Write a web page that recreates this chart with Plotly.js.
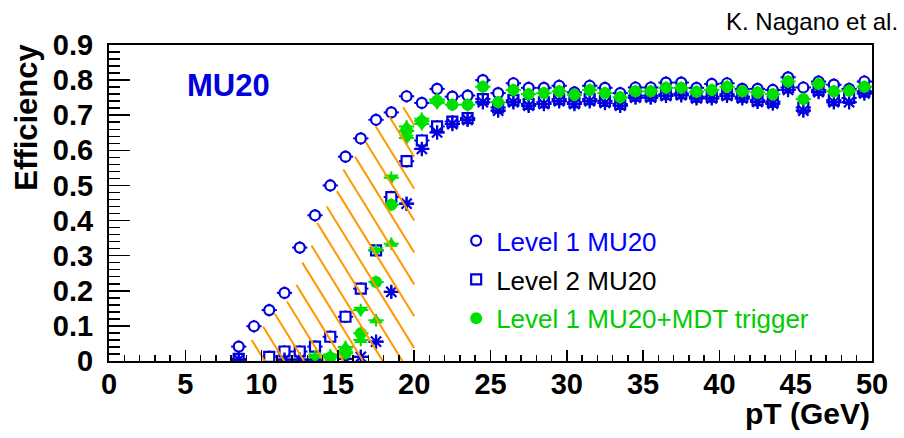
<!DOCTYPE html>
<html>
<head>
<meta charset="utf-8">
<script src="https://cdn.plot.ly/plotly-3.0.1.min.js"></script>
<style>
  html, body { margin: 0; padding: 0; background: #fff; }
  #chart { width: 904px; height: 438px; }
</style>
</head>
<body>
<div id="chart"></div>
<script>
// Bin centres (GeV)
const ptBins = [8.5, 9.5, 10.5, 11.5, 12.5, 13.5, 14.5, 15.5, 16.5, 17.5, 18.5, 19.5,
  20.5, 21.5, 22.5, 23.5, 24.5, 25.5, 26.5, 27.5, 28.5, 29.5, 30.5, 31.5, 32.5, 33.5,
  34.5, 35.5, 36.5, 37.5, 38.5, 39.5, 40.5, 41.5, 42.5, 43.5, 44.5, 45.5, 46.5, 47.5,
  48.5, 49.5];

// Level 1 MU20
const effL1 = [0.041, 0.099, 0.145, 0.194, 0.323, 0.415, 0.500, 0.582, 0.634, 0.687, 0.708, 0.754,
  0.735, 0.775, 0.753, 0.756, 0.800, 0.763, 0.791, 0.778, 0.778, 0.784, 0.765, 0.784, 0.778, 0.763,
  0.779, 0.779, 0.793, 0.793, 0.778, 0.789, 0.791, 0.775, 0.775, 0.772, 0.808, 0.779, 0.796, 0.787,
  0.775, 0.796];

// Level 2 MU20
const effL2 = [0.006, null, 0.012, 0.027, 0.027, 0.041, 0.069, 0.126, 0.206, 0.315, 0.467, 0.569,
  0.628, 0.668, 0.682, 0.692, 0.746, 0.722, 0.743, 0.732, 0.737, 0.746, 0.737, 0.746, 0.741, 0.732,
  0.756, 0.756, 0.760, 0.762, 0.753, 0.753, 0.760, 0.753, 0.743, 0.739, 0.779, 0.722, 0.772, 0.743,
  0.749, 0.768];

// Level 2 (asterisks)
const effL2b = [0.004, null, null, 0.004, 0.004, 0.004, null, 0.006, 0.012, 0.055, 0.197, 0.448,
  0.604, 0.651, 0.675, 0.687, 0.737, 0.713, 0.737, 0.727, 0.732, 0.740, 0.732, 0.740, 0.735, 0.727,
  0.750, 0.750, 0.755, 0.757, 0.748, 0.748, 0.755, 0.748, 0.738, 0.733, 0.772, 0.713, 0.766, 0.737,
  0.737, 0.762];

// Level 1 MU20 + MDT trigger
const effMDT = [null, null, null, null, null, null, 0.010, 0.022, 0.079, 0.225, 0.445, 0.655,
  0.683, 0.741, 0.730, 0.730, 0.781, 0.737, 0.772, 0.760, 0.763, 0.768, 0.758, 0.772, 0.763, 0.751,
  0.768, 0.768, 0.778, 0.778, 0.767, 0.772, 0.781, 0.768, 0.765, 0.760, 0.796, 0.746, 0.789, 0.768,
  0.770, 0.781];

// MDT variants (triangles), rising region only
const triBins = [13.5, 14.5, 15.5, 16.5, 17.5, 18.5, 19.5, 20.5, 21.5];
const effTriDown = [0.012, 0.012, 0.026, 0.145, 0.315, 0.522, 0.635, 0.675, 0.735];
const effTriUp = [null, 0.016, 0.040, 0.060, 0.116, 0.334, 0.668, 0.690, 0.745];

// Edge of the hatched band (upper-left side), closed by the 20 GeV line and y = 0
const bandEdgeX = [9.0, 9.35, 10.44, 11.21, 12.19, 12.47, 13.17, 13.61, 14.27, 14.92, 15.35,
  16.01, 16.71, 17.22, 17.98, 18.74, 19.40, 20.0];
const bandEdgeY = [0.0, 0.060, 0.116, 0.150, 0.192, 0.268, 0.311, 0.391, 0.440, 0.481, 0.545,
  0.576, 0.614, 0.658, 0.687, 0.704, 0.727, 0.745];
const bandRightX = 20.0;

// Axis tick labels
const xTicks = [0, 5, 10, 15, 20, 25, 30, 35, 40, 45, 50];
const yTicks = [0, 0.1, 0.2, 0.3, 0.4, 0.5, 0.6, 0.7, 0.8, 0.9];
const yTickText = ['0', '0.1', '0.2', '0.3', '0.4', '0.5', '0.6', '0.7', '0.8', '0.9'];

// ---- geometry / style ----
const W = 904, H = 438;
const M = { l: 109, r: 32, t: 45, b: 77 };
const XR = [0, 50], YR = [0, 0.9];
const pxPerX = (W - M.l - M.r) / (XR[1] - XR[0]);
const pxPerY = (H - M.t - M.b) / (YR[1] - YR[0]);

const BLUE = '#0000dd';
const GREEN = '#00e000';
const ORANGE = '#ff9900';
const FONT = 'Liberation Sans, Arial, Helvetica, sans-serif';

// Hatch: parallel lines, given by their slope on screen and spacing at y = 0
const hatchSlopePx = 1.62;
const hatchStep = 1.29;
const hatchFirst = 10.2;
const k = hatchSlopePx * pxPerX / pxPerY;

function edgeY(x) {
  if (x <= bandEdgeX[0]) return bandEdgeY[0];
  for (let i = 1; i < bandEdgeX.length; i++) {
    if (x <= bandEdgeX[i]) {
      const t = (x - bandEdgeX[i - 1]) / (bandEdgeX[i] - bandEdgeX[i - 1]);
      return bandEdgeY[i - 1] + t * (bandEdgeY[i] - bandEdgeY[i - 1]);
    }
  }
  return bandEdgeY[bandEdgeY.length - 1];
}

const hx = [], hy = [];
for (let x0 = hatchFirst; ; x0 += hatchStep) {
  const xe = Math.min(x0, bandRightX);
  const ye = k * (x0 - xe);
  if (edgeY(xe) < ye) break;           // line passes above the band
  let a = bandEdgeX[0], b = xe;
  for (let it = 0; it < 60; it++) {
    const m = 0.5 * (a + b);
    if (edgeY(m) - k * (x0 - m) < 0) a = m; else b = m;
  }
  const xs = 0.5 * (a + b);
  hx.push(xs, xe, null);
  hy.push(k * (x0 - xs), ye, null);
}

function errX(color) {
  return { type: 'constant', value: 0.5, width: 0, thickness: 2, color: color };
}
function errY(color) {
  return { type: 'constant', value: 0.018, width: 0, thickness: 2, color: color };
}

const traces = [
  {
    x: ptBins, y: effL1, type: 'scatter', mode: 'markers',
    name: '<span style="color:#0000ff">Level 1 MU20</span>', legendgroup: 'a',
    marker: { symbol: 'circle', size: 10, color: '#ffffff', line: { color: BLUE, width: 2.2 } },
    error_x: errX(BLUE), error_y: errY(BLUE)
  },
  {
    x: ptBins, y: effL2, type: 'scatter', mode: 'markers',
    name: '<span style="color:#000000">Level 2 MU20</span>', legendgroup: 'b',
    marker: { symbol: 'square', size: 10, color: '#ffffff', line: { color: BLUE, width: 2.2 } },
    error_x: errX(BLUE), error_y: errY(BLUE)
  },
  {
    x: ptBins, y: effL2b, type: 'scatter', mode: 'markers', showlegend: false,
    marker: { symbol: 'asterisk-open', size: 12, color: BLUE, line: { color: BLUE, width: 2.2 } },
    error_x: errX(BLUE), error_y: errY(BLUE)
  },
  {
    x: triBins, y: effTriDown, type: 'scatter', mode: 'markers', showlegend: false,
    marker: { symbol: 'triangle-down', size: 13, color: GREEN },
    error_x: errX(GREEN), error_y: errY(GREEN)
  },
  {
    x: triBins, y: effTriUp, type: 'scatter', mode: 'markers', showlegend: false,
    marker: { symbol: 'triangle-up', size: 12, color: GREEN },
    error_x: errX(GREEN), error_y: errY(GREEN)
  },
  {
    x: ptBins, y: effMDT, type: 'scatter', mode: 'markers',
    name: '<span style="color:#00cc00">Level 1 MU20+MDT trigger</span>', legendgroup: 'c',
    marker: { symbol: 'circle', size: 12, color: GREEN },
    error_x: errX(GREEN), error_y: errY(GREEN)
  },
  {
    x: hx, y: hy, type: 'scatter', mode: 'lines', showlegend: false, hoverinfo: 'skip',
    line: { color: ORANGE, width: 2 }, connectgaps: false
  }
];

const axisCommon = {
  showline: true, mirror: true, linecolor: '#000', linewidth: 2,
  showgrid: false, zeroline: false, ticks: 'inside', tickcolor: '#000', tickwidth: 1.5,
  tickfont: { family: FONT, size: 29, color: '#000', weight: 'bold' }
};

const layout = {
  width: W, height: H,
  margin: M,
  paper_bgcolor: '#fff', plot_bgcolor: '#fff',
  showlegend: true,
  legend: {
    x: 0.455, y: 0.455, xanchor: 'left', yanchor: 'top',
    bgcolor: 'rgba(255,255,255,0)', borderwidth: 0,
    font: { family: FONT, size: 26, color: '#000' },
    tracegroupgap: 2, itemsizing: 'trace'
  },
  xaxis: Object.assign({}, axisCommon, {
    range: XR, tickmode: 'array', tickvals: xTicks, ticktext: xTicks.map(String),
    ticklen: 11, ticklabelstandoff: -4,
    minor: { dtick: 1, tick0: 0, ticklen: 6, tickwidth: 1.5, tickcolor: '#000', ticks: 'inside' }
  }),
  yaxis: Object.assign({}, axisCommon, {
    range: YR, tickmode: 'array', tickvals: yTicks, ticktext: yTickText,
    ticklen: 21, ticklabelstandoff: 8,
    minor: { dtick: 0.02, tick0: 0, ticklen: 11, tickwidth: 1.5, tickcolor: '#000', ticks: 'inside' }
  }),
  annotations: [
    { text: 'pT (GeV)', xref: 'paper', yref: 'paper', x: 1.0, y: -0.166, xanchor: 'right', yanchor: 'middle',
      showarrow: false, font: { family: FONT, size: 30, color: '#000', weight: 'bold' } },
    { text: 'Efficiency', xref: 'paper', yref: 'paper', x: -0.1075, y: 1.012, xanchor: 'center', yanchor: 'top',
      textangle: -90, showarrow: false, font: { family: FONT, size: 31, color: '#000', weight: 'bold' } },
    { text: 'MU20', xref: 'paper', yref: 'paper', x: 0.156, y: 0.873, xanchor: 'center', yanchor: 'middle',
      showarrow: false, font: { family: FONT, size: 31, color: BLUE, weight: 'bold' } },
    { text: 'K. Nagano et al.', xref: 'paper', yref: 'paper', x: 1.0367, y: 1.073, xanchor: 'right', yanchor: 'middle',
      showarrow: false, font: { family: FONT, size: 24, color: '#000' } }
  ]
};

Plotly.newPlot('chart', traces, layout, { displayModeBar: false, staticPlot: true });
</script>
</body>
</html>
